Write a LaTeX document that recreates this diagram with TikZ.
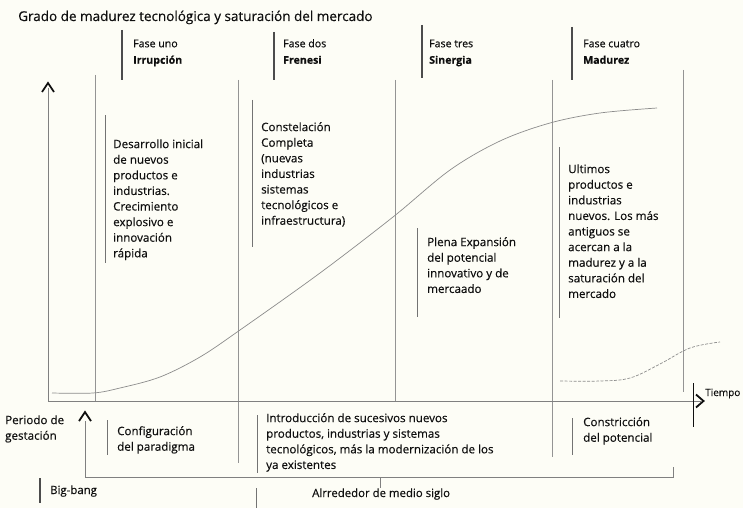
\documentclass[tikz,border=0pt]{standalone}
\usepackage{fontspec}
\setmainfont{Open Sans}[FakeBold=0.35]
\definecolor{paper}{RGB}{253,253,246}
\definecolor{ink}{RGB}{15,15,15}
\begin{document}
\begin{tikzpicture}[x=1pt,y=-1pt,
  guide/.style={draw=black!42, line width=0.7pt},
  tbar/.style={draw=black!55, line width=0.9pt},
  hbar/.style={draw=black!70, line width=1.1pt},
  curve/.style={draw=black!45, line width=0.7pt},
  chev/.style={draw=ink, line width=1.8pt, line join=miter},
  body/.style={anchor=north west, inner sep=0pt, align=left, text=ink,
    font=\fontsize{11.6}{15.6}\selectfont},
  head/.style={anchor=north west, inner sep=0pt, align=left, text=ink,
    font=\fontsize{10.6}{16.5}\selectfont},
  one/.style={anchor=base west, inner sep=0pt, text=ink, font=\fontsize{11.4}{13}\selectfont}]
\fill[paper] (0,0) rectangle (743,508);
\useasboundingbox (0,0) rectangle (743,508);

% title
\node[one, font=\fontsize{13.5}{15}\selectfont] (title) at (18,21) {Grado de madurez tecnológica y saturación del mercado};

% phase headers
\draw[hbar] (122,30) -- (122,80);
\node[head] (f1) at (133,35.5) {\strut Fase uno\\\textbf{Irrupción}};
\draw[hbar] (274,32) -- (274,80);
\node[head] (f2) at (283,35.5) {\strut Fase dos\\\textbf{Frenesi}};
\draw[hbar] (422,25) -- (422,78);
\node[head] (f3) at (429,35.5) {\strut Fase tres\\\textbf{Sinergia}};
\draw[hbar] (572,27) -- (572,80);
\node[head] (f4) at (583,35.5) {\strut Fase cuatro\\\textbf{Madurez}};

% long guide lines
\draw[guide] (95,75) -- (95,401);
\draw[guide] (238,80) -- (238,463);
\draw[guide] (395,80) -- (395,401);
\draw[guide] (552,80) -- (552,457);
\draw[guide] (683,70) -- (683,392);

% axes
\coordinate (o) at (48,401);
\coordinate (ytop) at (48,88);
\coordinate (xend) at (701,401);
\draw[draw=black!50, line width=0.9pt] (ytop) -- (o) -- (xend);
\draw[chev] (42,92) -- (48,83) -- (54,92);
\draw[chev] (696,394.5) -- (703.5,401) -- (696,407.5);
\draw[draw=ink, line width=1pt] (693,383) -- (693,427);
\node[one, font=\fontsize{10}{12}\selectfont] (tiempo) at (705,396) {Tiempo};

% curves
\draw[curve] plot[smooth, tension=0.55] coordinates {(52,393) (93,393) (120,388) (160,377) (200,357) (240,330) (320,273) (393,217) (450,170) (500,141) (550,123) (600,113) (657,108)};
\draw[curve, dash pattern=on 3pt off 1.5pt] plot[smooth, tension=0.6] coordinates {(560,381) (600,381) (630,378) (660,364) (690,348) (720,342)};

% text blocks above axis
\draw[tbar] (105,115) -- (105,263);
\node[body] (desa) at (113,137) {\strut Desarrollo inicial\\de nuevos\\productos e\\industrias.\\Crecimiento\\explosivo e\\innovación\\rápida};
\draw[tbar] (252,100) -- (252,247);
\node[body] (cons) at (261,120) {\strut Constelación\\Completa\\(nuevas\\industrias\\sistemas\\tecnológicos e\\infraestructura)};
\draw[tbar] (417,228) -- (417,317);
\node[body] (plena) at (427,235) {\strut Plena Expansión\\del potencial\\innovativo y de\\mercaado};
\draw[tbar] (559,147) -- (559,318);
\node[body] (ult) at (568,162) {\strut Ultimos\\productos e\\industrias\\nuevos. Los más\\antiguos se\\acercan a la\\madurez y a la\\saturación del\\mercado};

% below axis
\node[body] (peri) at (5,413) {\strut Periodo de\\gestación};
\draw[chev] (79,421) -- (85,412) -- (91,421);
\coordinate (bl) at (85,477);
\coordinate (br) at (673,477);
\draw[draw=black!50, line width=0.7pt] (85,421) -- (bl) -- (br) -- (673,467);
\draw[draw=black!50, line width=0.9pt] (380,477) -- (380,488);
\draw[tbar] (107,420) -- (107,455);
\node[body] (conf) at (117,424) {\strut Configuración\\del paradigma};
\draw[tbar] (257,415) -- (257,473);
\node[body] (intro) at (266,411) {\strut Introducción de sucesivos nuevos\\productos, industrias y sistemas\\tecnológicos, más la modernización de los\\ya existentes};
\draw[tbar] (572,418) -- (572,455);
\node[body] (constr) at (583,415) {\strut Constricción\\del potencial};
\draw[hbar] (40,478) -- (40,503);
\node[one] (bb) at (50,494) {Big-bang};
\draw[tbar] (256,488) -- (256,508);
\node[one] (alr) at (312,497) {Alrrededor de medio siglo};
\end{tikzpicture}
\end{document}
